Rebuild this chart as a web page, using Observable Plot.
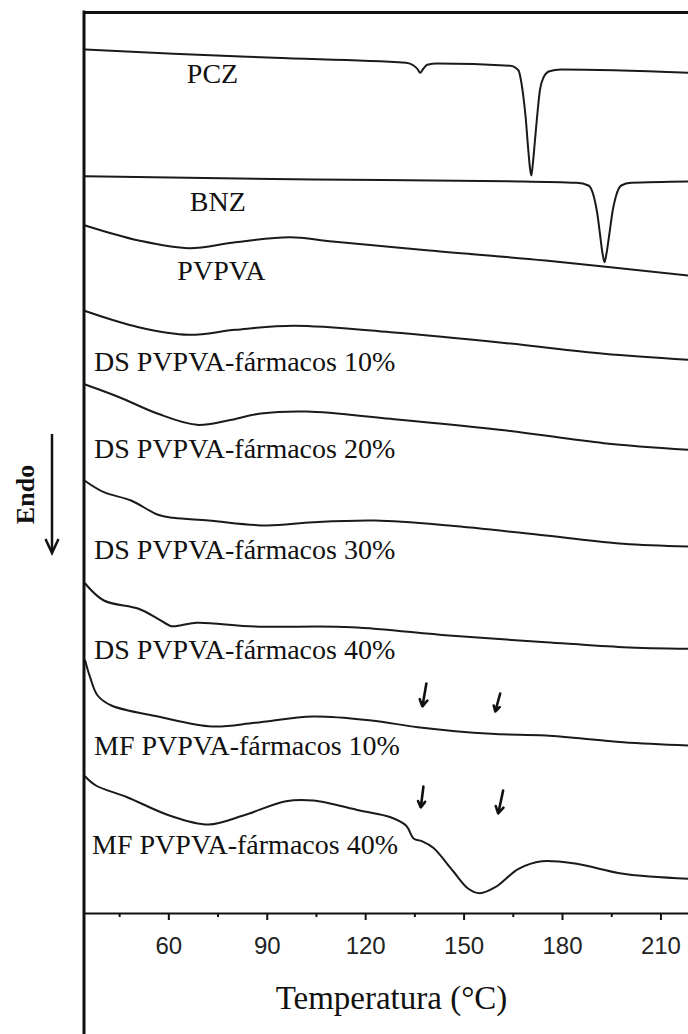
<!DOCTYPE html>
<html><head><meta charset="utf-8">
<script src="https://cdn.jsdelivr.net/npm/d3@7"></script>
<script src="https://cdn.jsdelivr.net/npm/@observablehq/plot@0.6"></script>
<style>
html,body{margin:0;padding:0;background:#fff;}
#chart svg{display:block;}
</style></head><body><div id="chart"></div>
<script>
// ---- data (temperature °C, DSC signal in arbitrary offset units) ----
const seriesNames = ["PCZ","BNZ","PVPVA","DS PVPVA-fármacos 10%","DS PVPVA-fármacos 20%","DS PVPVA-fármacos 30%","DS PVPVA-fármacos 40%","MF PVPVA-fármacos 10%","MF PVPVA-fármacos 40%"];

const pczT = [34.5, 61.4, 92.1, 132.3, 134.6, 135.9, 136.6, 137.5, 138.8, 141.8, 164.1, 166.6, 167.4, 168.1, 168.8, 169.5, 170.1, 170.5, 170.9, 171.6, 172.4, 173.1, 174.2, 176.0, 179.5, 218.4];
const pczV = [864, 859.7, 855.7, 850.7, 848, 844, 840.7, 844.5, 848.7, 850, 847.7, 843, 832, 816, 795, 766, 745, 738, 748, 773, 802, 823, 836, 842.3, 844, 840.7];

const bnzT = [34.5, 104.0, 163.0, 184.3, 187.9, 189.6, 190.6, 191.4, 192.2, 192.8, 193.4, 194.3, 195.3, 196.2, 197.9, 200.9, 218.4];
const bnzV = [737.3, 734, 732.3, 730.7, 728, 716.3, 700, 680, 660, 651.3, 660, 680, 703, 716.3, 728, 730.7, 732];

const pvpvaT = [34.5, 50.8, 66.1, 80.3, 96.9, 109.9, 139.4, 174.8, 218.4];
const pvpvaV = [688, 673, 665.3, 671.3, 676.3, 672, 663, 653, 638];

const ds10T = [34.5, 50.8, 66.1, 80.3, 98.1, 127.6, 163.0, 192.6, 218.4];
const ds10V = [602.5, 586.3, 578.7, 583.7, 587.7, 581.3, 570.3, 559.7, 553.7];

const ds20T = [34.5, 44.9, 56.7, 68.5, 78.0, 88.0, 102.0, 127.6, 163.0, 192.6, 218.4];
const ds20V = [529, 516.3, 499.7, 488.7, 493, 500, 502, 494.7, 483, 470.3, 463.7];

const ds30T = [34.5, 40.2, 48.5, 56.7, 61.4, 72.1, 89.8, 104.0, 122.9, 145.4, 174.9, 198.5, 218.4];
const ds30V = [432.5, 421.3, 413, 398.7, 395.7, 393, 388, 391.3, 393, 388, 378, 369.7, 367];

const ds40T = [34.5, 40.2, 50.8, 56.7, 60.8, 63.8, 68.5, 86.3, 115.8, 145.4, 174.9, 198.5, 218.4];
const ds40V = [330, 313, 304.7, 294.7, 287.3, 288.3, 290.7, 287, 286.3, 278, 271.3, 266.3, 264.7];

const mf10T = [34.5, 36.0, 38.3, 42.5, 56.7, 73.2, 86.3, 104.0, 121.7, 135.9, 158.3, 174.9, 198.5, 218.4];
const mf10V = [253, 236.3, 218, 208, 197, 187, 190.7, 197, 193, 186.3, 179.7, 178, 171.3, 168];

const mf40T = [34.5, 37.8, 47.3, 60.2, 72.1, 82.7, 95.7, 104.0, 118.2, 127.6, 132.3, 134.7, 137.1, 140.6, 146.5, 151.3, 154.8, 159.5, 166.6, 173.7, 184.3, 198.5, 218.4];
const mf40V = [137, 128, 116.3, 98, 89, 98, 112.3, 113, 103, 96.3, 88, 74.7, 72.3, 65.7, 43, 24.7, 20.3, 26.3, 44.7, 52.3, 49.7, 39.7, 34.7];

// label anchor (temperature, signal) for each series
const labelT = [65.5, 66.4, 62.6, 37.2, 37.2, 37.2, 37.2, 37.2, 36.6];
const labelV = [839, 711, 642, 551.5, 464, 363, 263.5, 167, 68];

// arrows marking drug events in physical mixtures
const markT1 = [138.5, 161.0, 137.6, 161.9];
const markV1 = [230, 220, 127, 123];
const markT2 = [137.3, 159.5, 136.8, 160.4];
const markV2 = [207, 202, 106, 100];

const majorTicks = [60, 90, 120, 150, 180, 210];
const minorTicks = [45, 75, 105, 135, 165, 195];
const xLabel = "Temperatura (°C)";
const endoLabel = "Endo";
const endoT = 16.3, endoV = 419;

// ---- build tables ----
const Ts = [pczT, bnzT, pvpvaT, ds10T, ds20T, ds30T, ds40T, mf10T, mf40T];
const Vs = [pczV, bnzV, pvpvaV, ds10V, ds20V, ds30V, ds40V, mf10V, mf40V];
const sharp = new Set(["PCZ", "BNZ"]);
const rows = [];
seriesNames.forEach((s, i) => Ts[i].forEach((t, j) => rows.push({series: s, t, v: Vs[i][j]})));
const labels = seriesNames.map((s, i) => ({name: s, t: labelT[i], v: labelV[i]}));
const marks = markT1.map((t, i) => ({x1: t, y1: markV1[i], x2: markT2[i], y2: markV2[i]}));

const W = 688, H = 1034, mL = 84, mT = 12, mB = 121, mR = 0;
const serif = "Liberation Serif, Times New Roman, serif";

const plot = Plot.plot({
  width: W, height: H,
  marginLeft: mL, marginRight: mR, marginTop: mT, marginBottom: mB,
  x: {domain: [34.3, 218.4]},
  y: {domain: [0, 901], axis: null},
  style: {background: "#fff", color: "#111", fontSize: "24px", fontFamily: "Liberation Sans, Arial, sans-serif"},
  marks: [
    Plot.frame({anchor: "top", strokeWidth: 3, stroke: "#111"}),
    Plot.ruleY([0], {strokeWidth: 2, stroke: "#111"}),
    Plot.axisX({ticks: minorTicks, tickSize: 4, tickFormat: () => "", strokeWidth: 2, label: null}),
    Plot.axisX({ticks: majorTicks, tickSize: 7, tickPadding: 16, strokeWidth: 2, label: null,
      fontSize: 24, fill: "#222"}),
    Plot.line(rows.filter(d => sharp.has(d.series)), {x: "t", y: "v", z: "series", curve: "monotone-x", stroke: "#1a1a1a", strokeWidth: 2, clip: true}),
    Plot.line(rows.filter(d => !sharp.has(d.series)), {x: "t", y: "v", z: "series", curve: "catmull-rom", stroke: "#1a1a1a", strokeWidth: 2, clip: true}),
    Plot.text(labels, {x: "t", y: "v", text: "name", textAnchor: "start", lineAnchor: "middle",
      fontSize: 28, fontFamily: serif, fill: "#111"}),
    Plot.arrow(marks, {x1: "x1", y1: "y1", x2: "x2", y2: "y2", stroke: "#111", strokeWidth: 2.6, headLength: 8, headAngle: 60}),
    Plot.text([xLabel], {frameAnchor: "bottom", dx: 5, dy: 85, lineAnchor: "middle",
      fontSize: 33, fontFamily: serif, fill: "#111"}),
    Plot.text([{t: endoT, v: endoV}], {x: "t", y: "v", text: () => endoLabel, rotate: -90, lineAnchor: "middle",
      fontSize: 26, fontWeight: "bold", fontFamily: serif, fill: "#111"})
  ]
});

// decorations: left frame line extending to the bottom, and the Endo arrow
const svg = d3.select(plot);
svg.append("line").attr("x1", mL).attr("x2", mL).attr("y1", mT - 1.5).attr("y2", H)
  .attr("stroke", "#111").attr("stroke-width", 3);
const g = svg.append("g").attr("stroke", "#111").attr("stroke-width", 2.5).attr("fill", "none");
g.append("line").attr("x1", 52).attr("x2", 52).attr("y1", 434).attr("y2", 552);
g.append("polyline").attr("points", "45.5,539 52,553 58.5,539");

document.getElementById("chart").appendChild(plot);
</script></body></html>
